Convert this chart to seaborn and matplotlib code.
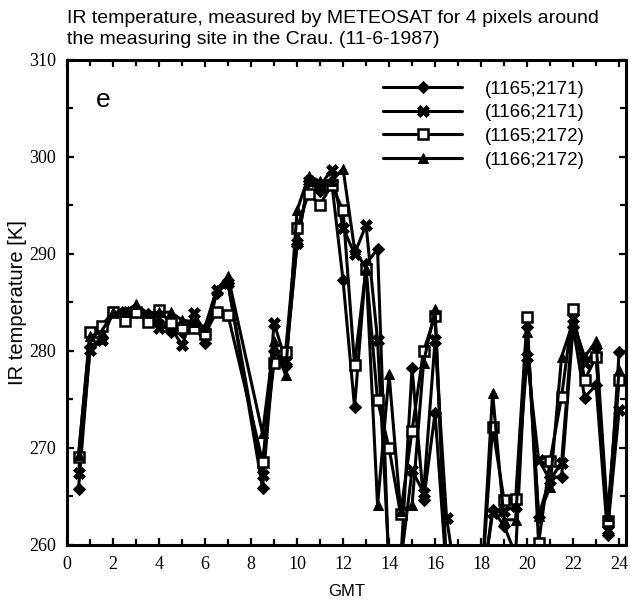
import numpy as np
import pandas as pd
import matplotlib
matplotlib.use("Agg")
import matplotlib.pyplot as plt
import seaborn as sns
from matplotlib.ticker import MultipleLocator

gmt = [0.5, 1.0, 1.5, 2.0, 2.5, 3.0, 3.5, 4.0, 4.5, 5.0, 5.5, 6.0, 6.5, 7.0,
       8.5, 9.0, 9.5, 10.0, 10.5, 11.0, 11.5, 12.0, 12.5, 13.0, 13.5, 14.0,
       14.5, 15.0, 15.5, 16.0, 16.5, 17.0, 18.0, 18.5, 19.0, 19.5, 20.0, 20.5,
       21.0, 21.5, 22.0, 22.5, 23.0, 23.5, 24.0]

p1165_2171 = [265.8, 280.4, 281.3, 284.0, 284.0, 284.0, 283.8, 283.0, 282.0, 282.0, 282.8, 280.8, 286.0, 287.0,
              265.9, 280.0, 278.5, 291.0, 297.5, 296.5, 297.5, 287.3, 274.2, 289.0, 290.5, 257.0,
              258.0, 278.2, 264.6, 273.6, 257.0, 255.0, 255.0, 263.6, 262.0, 259.0, 282.5, 262.9,
              267.0, 267.0, 282.5, 275.2, 276.5, 261.0, 279.9]
p1166_2171 = [267.4, 280.1, 281.1, 284.0, 284.0, 284.0, 283.5, 282.4, 282.5, 280.6, 283.9, 282.0, 286.3, 287.0,
              267.2, 282.9, 279.0, 291.1, 297.5, 297.0, 298.7, 292.7, 290.0, 293.0, 281.1, 258.0,
              258.0, 267.7, 265.4, 281.1, 262.8, 255.0, 255.0, 263.3, 263.5, 264.0, 279.4, 268.8,
              266.7, 268.5, 283.4, 278.8, 280.0, 261.5, 273.9]
p1165_2172 = [269.1, 282.0, 282.6, 284.0, 283.1, 284.0, 283.0, 284.2, 282.9, 282.4, 282.4, 281.8, 284.0, 283.7,
              268.6, 278.8, 279.9, 292.7, 296.2, 295.1, 297.1, 294.5, 278.6, 288.5, 274.9, 270.0,
              263.2, 271.8, 280.0, 283.6, 257.0, 255.0, 255.0, 272.2, 264.6, 264.7, 283.5, 260.2,
              268.7, 275.3, 284.3, 277.0, 279.4, 262.5, 277.0]
p1166_2172 = [269.3, 281.5, 282.0, 284.0, 284.0, 284.8, 283.9, 284.0, 284.0, 283.2, 283.0, 282.5, 286.3, 287.7,
              271.5, 281.0, 277.5, 294.5, 298.0, 297.5, 297.5, 298.8, 290.5, 288.5, 264.1, 277.6,
              263.5, 264.1, 278.8, 284.3, 257.0, 255.0, 255.0, 275.7, 262.6, 262.6, 282.0, 263.0,
              266.0, 279.4, 283.0, 279.4, 281.0, 263.0, 278.0]

labels = ["(1165;2171)", "(1166;2171)", "(1165;2172)", "(1166;2172)"]
series = [p1165_2171, p1166_2171, p1165_2172, p1166_2172]

sns.set_theme(style="white")
plt.rcParams['font.family'] = ['Liberation Sans', 'DejaVu Sans']
plt.rcParams['text.color'] = 'black'
plt.rcParams['axes.labelcolor'] = 'black'
plt.rcParams['xtick.color'] = 'black'
plt.rcParams['ytick.color'] = 'black'

fig = plt.figure(figsize=(6.3, 6.12), dpi=100)
ax = fig.add_axes([67/630, 1 - 545/612, (626-67)/630, (545-60)/612])

styles = [
    dict(marker="D", markersize=6, markerfacecolor="black", markeredgecolor="black"),
    dict(marker="X", markersize=8, markerfacecolor="black", markeredgecolor="black", markeredgewidth=0.5),
    dict(marker="s", markersize=6.5, markerfacecolor="white", markeredgecolor="black", markeredgewidth=1.8),
    dict(marker="^", markersize=7.5, markerfacecolor="black", markeredgecolor="black"),
]

for lab, vals, st in zip(labels, series, styles):
    df = pd.DataFrame({"GMT": gmt, "T": vals})
    sns.lineplot(data=df, x="GMT", y="T", ax=ax, color="black", linewidth=2.2,
                 label=lab, sort=False, estimator=None, **st)

ax.set_xlim(0, 24.3)
ax.set_ylim(260, 310)
ax.xaxis.set_major_locator(MultipleLocator(2))
ax.xaxis.set_minor_locator(MultipleLocator(1))
ax.yaxis.set_major_locator(MultipleLocator(10))
ax.yaxis.set_minor_locator(MultipleLocator(5))
ax.tick_params(which="both", direction="in", top=True, right=True, bottom=True, left=True,
               width=1.6, color="black", labelcolor="black")
ax.tick_params(which="major", length=5, labelsize=13, pad=8)
ax.tick_params(which="minor", length=4)
for t in ax.get_xticklabels() + ax.get_yticklabels():
    t.set_family("Liberation Serif")
for s in ax.spines.values():
    s.set_linewidth(2.2)
    s.set_color("black")

ax.set_xlabel("GMT", fontsize=12, labelpad=8, color="black")
ax.set_ylabel("IR temperature [K]", fontsize=14.5, labelpad=1, color="black")

ax.text(0.064, 0.917, "e", transform=ax.transAxes, fontsize=19, ha="center", va="center", color="black")

leg = ax.legend(loc="upper left", bbox_to_anchor=(0.549, 0.977), frameon=False,
                handlelength=4.2, handletextpad=1.2, labelspacing=0.35,
                fontsize=13.5, borderpad=0, labelcolor="black")

fig.text(67/630, 1 - 29/612,
         "IR temperature, measured by METEOSAT for 4 pixels around\nthe measuring site in the Crau. (11-6-1987)",
         ha="left", va="center", fontsize=14, linespacing=1.35, color="black")

fig.savefig("out.png", dpi=100)
